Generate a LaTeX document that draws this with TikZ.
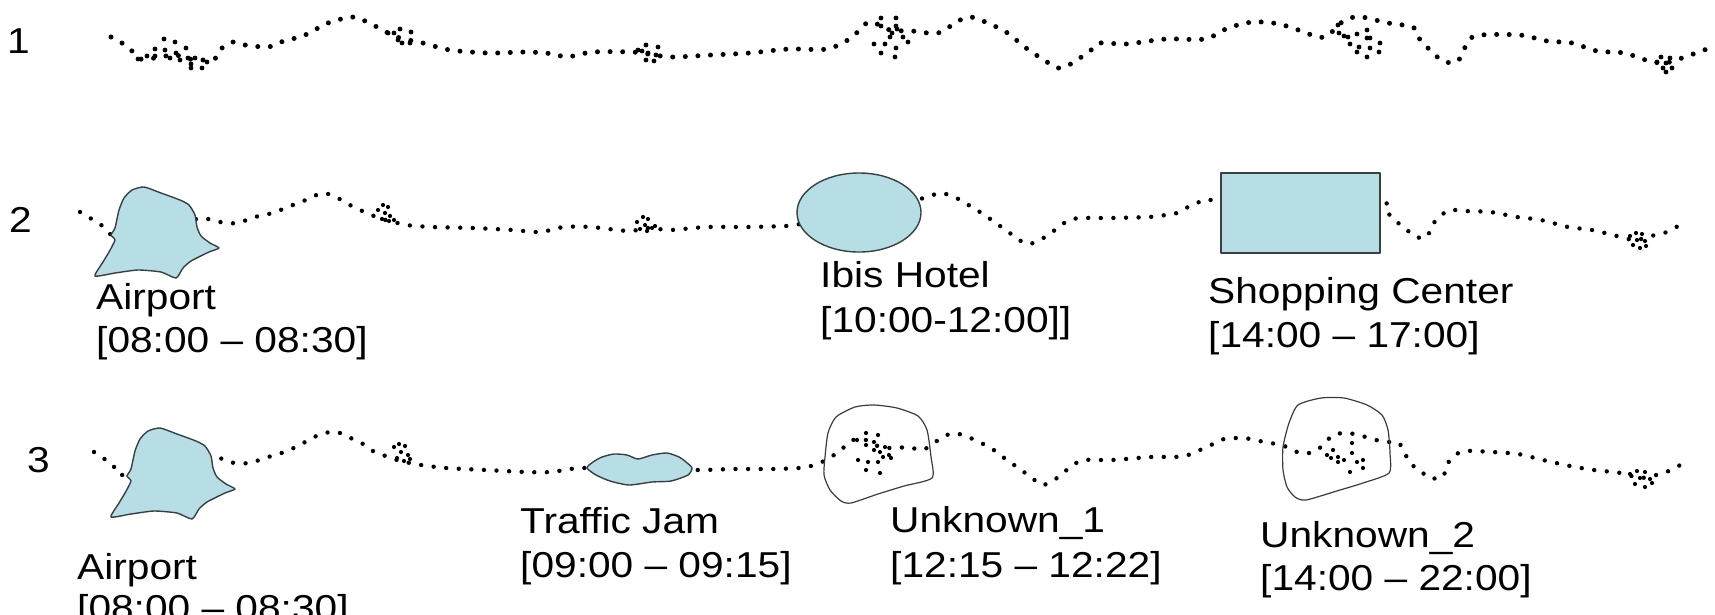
\documentclass[tikz,border=0pt]{standalone}
\usepackage{fontspec}
\setmainfont{Liberation Sans}
\newfontfamily\labfont[FakeStretch=1.13]{Liberation Sans}
\usetikzlibrary{shapes.geometric}
\definecolor{placefill}{RGB}{183,222,228}
\definecolor{placeline}{RGB}{55,65,68}
\definecolor{unkline}{RGB}{60,60,60}
\tikzset{
  traj/.style={line width=#1, line cap=round, dash pattern=on 0pt off 12.6pt, black},
  lbl/.style={anchor=base west, inner sep=0pt, font=\labfont\fontsize{36}{44}\selectfont},
  place/.style={fill=placefill, draw=placeline, line width=1.4pt, line join=round},
  unk/.style={draw=unkline, line width=1.2pt, line join=round},
}
\newcommand\airportshape{%
  \draw[place] plot[smooth cycle, tension=0.35] coordinates {(95,276) (103,262) (109,252) (115,240) (111,235) (115,228) (119,210) (124,198) (132,190) (144,187) (161,193) (180,200) (189,205) (195,215) (197,227) (201,236) (210,243) (219,248) (209,252) (191,261) (183,268) (176,278) (161,272) (138,270) (115,273)};}
\begin{document}
\begin{tikzpicture}[x=1pt,y=-1pt]
\useasboundingbox (0,0) rectangle (1715,614);
\fill[white] (0,0) rectangle (1715,614);

% ---------- row labels ----------
\node[lbl] (r1) at (7,53) {1};
\node[lbl] (r2) at (9,232) {2};
\node[lbl] (r3) at (27,472) {3};

% ---------- row 1 ----------
\draw[traj=5pt] plot[smooth, tension=0.5] coordinates {(111,37) (122,43) (132,51) (140,59) (155,58) (175,55) (195,60) (216,58) (222,48) (233,42) (245,45) (268,47) (281,42) (305,35) (328,23) (352,17) (365,21) (377,27) (388,33) (400,38) (423,43) (450,50) (489,53) (528,52) (554,54) (567,57) (593,52) (632,52) (648,54) (672,57) (711,55) (749,53) (789,49) (827,49) (851,38) (869,22) (890,30) (912,31) (938,33) (958,21) (970,17) (983,21) (1006,32) (1026,48) (1047,62) (1058,68) (1069,65) (1090,51) (1100,43) (1126,44) (1166,39) (1205,39) (1228,28) (1253,22) (1279,24) (1304,32) (1317,37) (1328,36) (1338,25) (1350,18) (1362,17) (1388,23) (1413,27) (1418,37) (1435,55) (1446,62) (1458,61) (1469,40) (1481,35) (1520,35) (1547,41) (1572,43) (1597,51) (1624,53) (1649,61) (1665,63) (1682,58) (1707,49)};
\foreach \x/\y in {138/59,147/56,155/56,155/49,164/39,165/50,170/58,175/42,176/53,180/60,186/48,188/58,191/64,195/58,202/68,191/68,207/62,
  388/33,400/29,411/32,398/40,402/43,410/43,394/33,
  638/50,646/45,658/47,648/53,656/55,646/60,654/61,642/51,
  881/18,896/18,881/26,896/26,892/33,890/37,903/37,908/42,874/44,885/44,896/48,881/53,895/57,897/29,
  1338/25,1339/33,1348/37,1357/34,1350/44,1359/47,1357/52,1367/30,1367/38,1370/38,1380/43,1379/52,1367/57,1370/48,1344/36,
  1661/57,1670/58,1666/63,1663/68,1672/68,1666/72,1657/62}
  \fill (\x,\y) circle[radius=2.4pt];

% ---------- row 2 ----------
\draw[traj=4.4pt] plot[smooth, tension=0.5] coordinates {(80,212) (90,218) (100,224) (107,230) (115,236) (150,232) (185,222) (203,218) (214,221) (228,223) (239,223) (251,218) (264,215) (276,212) (287,207) (299,203) (310,198) (323,193) (336,197) (346,203) (358,209) (369,214) (382,219) (394,222) (406,225) (432,227) (473,228) (513,230) (540,232) (564,227) (591,227) (617,230) (632,231) (645,228) (659,229) (671,230) (707,227) (746,227) (786,226) (800,224) (860,210) (915,200) (927,197) (941,193) (954,197) (964,202) (973,208) (985,215) (994,222) (1006,230) (1015,237) (1027,244) (1038,241) (1048,235) (1059,227) (1069,220) (1082,218) (1109,218) (1149,217) (1166,215) (1177,213) (1186,208) (1198,203) (1209,200) (1300,200) (1382,202) (1388,213) (1397,222) (1407,230) (1416,237) (1427,237) (1431,227) (1439,217) (1450,210) (1463,211) (1490,212) (1517,217) (1541,220) (1568,227) (1592,230) (1617,236) (1635,240) (1655,235) (1667,232) (1678,226)};
\foreach \x/\y in {378/210,383/205,388/207,385/213,390/216,382/219,389/221,394/220,
  637/222,643/217,648/219,645/225,652/228,640/229,647/231,655/226,
  1630/236,1636/233,1642/234,1637/240,1645/241,1633/245,1640/248,1646/246}
  \fill (\x,\y) circle[radius=2.1pt];
\airportshape
\node[place, ellipse, minimum width=124pt, minimum height=79pt, inner sep=0pt] (ibisshape) at (859,212.5) {};
\node[place, rectangle, minimum width=159pt, minimum height=80pt, inner sep=0pt] (shopshape) at (1300.5,213) {};

\node[lbl] (ap2) at (96,309) {Airport};
\node[lbl] (ap2t) at (96,352) {[08:00 – 08:30]};
\node[lbl] (ibis) at (820,287) {Ibis Hotel};
\node[lbl] (ibist) at (820,332) {[10:00-12:00]]};
\node[lbl] (shop) at (1208,303) {Shopping Center};
\node[lbl] (shopt) at (1208,347) {[14:00 – 17:00]};

% ---------- row 3 ----------
\draw[traj=4.4pt] plot[smooth, tension=0.5] coordinates {(94,452) (103,458) (113,465) (122,475) (170,465) (216,458) (228,462) (239,463) (251,463) (264,458) (276,455) (289,450) (300,445) (312,438) (325,433) (337,432) (348,437) (360,442) (371,450) (383,455) (397,460) (410,463) (421,465) (446,468) (486,470) (526,472) (551,472) (564,470) (578,468) (587,468) (640,468) (696,470) (734,469) (772,469) (799,468) (811,466) (824,461) (834,455) (843,448) (853,440) (866,440) (880,447) (897,448) (908,447) (922,450) (931,445) (943,437) (954,433) (968,437) (979,442) (991,448) (1000,455) (1010,462) (1021,470) (1031,477) (1042,485) (1054,480) (1063,473) (1073,465) (1084,460) (1111,460) (1151,457) (1175,457) (1188,455) (1200,450) (1211,445) (1224,439) (1238,438) (1251,439) (1264,442) (1276,444) (1287,447) (1300,453) (1314,452) (1325,443) (1333,435) (1346,433) (1359,435) (1372,439) (1386,442) (1399,443) (1410,463) (1420,470) (1429,478) (1443,477) (1446,466) (1454,456) (1465,451) (1492,452) (1518,454) (1543,460) (1570,466) (1594,470) (1621,473) (1640,478) (1660,474) (1671,470) (1682,464)};
\foreach \x/\y in {394/447,399/444,405/446,401/452,408/455,397/458,404/461,410/459,
  857/440,866/433,878/435,866/445,874/450,880/452,885/447,889/455,858/460,868/462,878/462,891/458,866/470,880/473,874/442,883/457,
  1327/455,1333/450,1338/457,1344/460,1352/443,1352/453,1357/462,1363/460,1350/472,1363/468,1338/462,1331/458,
  1630/474,1637/471,1645/472,1640/478,1650/479,1635/484,1645/487,1652/483}
  \fill (\x,\y) circle[radius=2.1pt];
\begin{scope}[shift={(16,241)}]
  \airportshape
\end{scope}
\draw[place] plot[smooth cycle, tension=0.4] coordinates {(587,468) (593,462) (602,457) (614,454) (627,455) (638,459) (652,455) (667,453) (679,457) (686,462) (692,468) (688,475) (671,481) (652,482) (629,485) (610,481) (596,475)};
\draw[unk] plot[smooth cycle, tension=0.4] coordinates {(836,417) (855,407) (874,405) (897,408) (918,416) (927,430) (931,457) (932,478) (904,486) (878,494) (851,503) (841,501) (830,490) (824,475) (825,457) (828,433)};
\draw[unk] plot[smooth cycle, tension=0.4] coordinates {(1298,405) (1321,398) (1344,398) (1367,405) (1382,415) (1388,430) (1390,453) (1389,473) (1363,483) (1340,490) (1306,500) (1295,497) (1287,487) (1283,470) (1283,447) (1289,423)};

\node[lbl] (ap3) at (77,579) {Airport};
\node[lbl] (ap3t) at (77,620) {[08:00 – 08:30]};
\node[lbl] (tj) at (520,533) {Traffic Jam};
\node[lbl] (tjt) at (520,577) {[09:00 – 09:15]};
\node[lbl] (u1) at (890,532) {Unknown\_1};
\node[lbl] (u1t) at (890,577) {[12:15 – 12:22]};
\node[lbl] (u2) at (1260,547) {Unknown\_2};
\node[lbl] (u2t) at (1260,590) {[14:00 – 22:00]};
\end{tikzpicture}
\end{document}
